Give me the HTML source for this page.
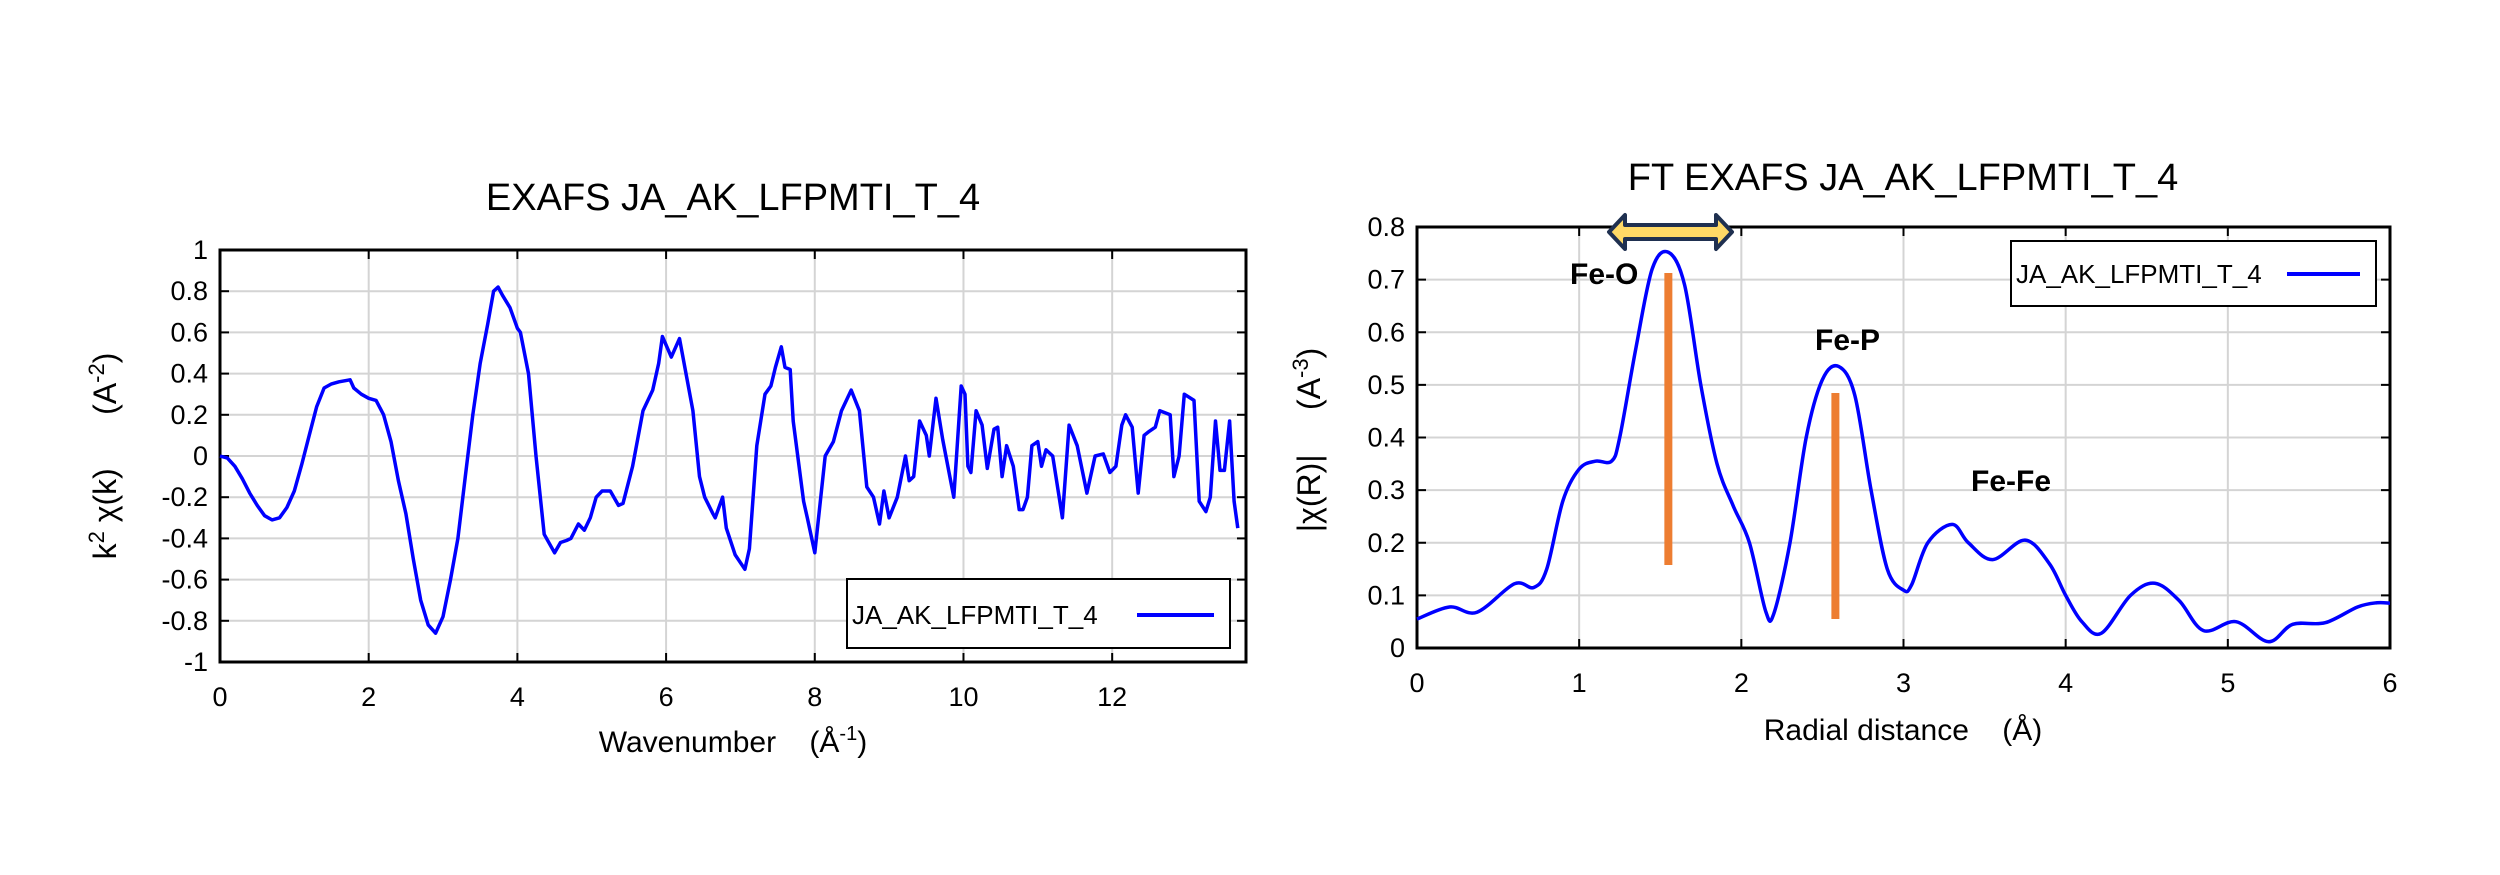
<!DOCTYPE html>
<html><head><meta charset="utf-8"><style>
html,body{margin:0;padding:0;background:#fff}
svg{display:block;font-family:"Liberation Sans",Arial,sans-serif}
svg text{white-space:pre}
</style></head><body>
<svg id="root" width="2500" height="875" viewBox="0 0 2500 875" xmlns="http://www.w3.org/2000/svg" xml:space="preserve">
<rect width="2500" height="875" fill="#fff"/>
<g id="left"></g>
<g id="right"></g>
</svg>
<script>
// ---- Left chart data ----
const kValues=[0,0.1,0.2,0.3,0.4,0.5,0.6,0.7,0.8,0.9,1.0,1.1,1.2,1.3,1.4,1.5,1.6,1.75,1.8,1.9,2.0,2.1,2.2,2.3,2.4,2.5,2.6,2.7,2.8,2.9,3.0,3.1,3.2,3.3,3.4,3.5,3.6,3.68,3.74,3.8,3.9,4.0,4.04,4.15,4.25,4.36,4.5,4.58,4.66,4.72,4.82,4.9,4.98,5.06,5.14,5.25,5.36,5.42,5.55,5.69,5.82,5.9,5.95,6.07,6.18,6.36,6.45,6.52,6.63,6.66,6.76,6.81,6.93,7.06,7.12,7.22,7.33,7.41,7.47,7.55,7.6,7.67,7.71,7.85,7.9,8.0,8.14,8.25,8.36,8.49,8.6,8.7,8.79,8.87,8.93,9.0,9.11,9.22,9.27,9.33,9.41,9.5,9.54,9.63,9.72,9.87,9.97,10.02,10.06,10.1,10.17,10.25,10.32,10.41,10.46,10.52,10.58,10.67,10.75,10.8,10.86,10.92,11.0,11.05,11.11,11.2,11.33,11.42,11.53,11.66,11.77,11.88,11.97,12.05,12.13,12.18,12.27,12.35,12.43,12.5,12.58,12.64,12.78,12.83,12.9,12.97,13.1,13.17,13.26,13.32,13.39,13.45,13.51,13.58,13.64,13.69];
const chiValues=[0,-0.01,-0.05,-0.11,-0.18,-0.24,-0.29,-0.31,-0.3,-0.25,-0.17,-0.04,0.1,0.24,0.33,0.35,0.36,0.37,0.33,0.3,0.28,0.27,0.2,0.07,-0.12,-0.28,-0.5,-0.7,-0.82,-0.86,-0.78,-0.6,-0.4,-0.1,0.2,0.45,0.64,0.8,0.82,0.78,0.72,0.62,0.6,0.4,0.0,-0.38,-0.47,-0.42,-0.41,-0.4,-0.33,-0.36,-0.3,-0.2,-0.17,-0.17,-0.24,-0.23,-0.05,0.22,0.32,0.45,0.58,0.48,0.57,0.22,-0.1,-0.2,-0.28,-0.3,-0.2,-0.35,-0.48,-0.55,-0.45,0.05,0.3,0.34,0.43,0.53,0.43,0.42,0.17,-0.22,-0.3,-0.47,0.0,0.07,0.22,0.32,0.22,-0.15,-0.2,-0.33,-0.17,-0.3,-0.2,0.0,-0.12,-0.1,0.17,0.1,0.0,0.28,0.08,-0.2,0.34,0.3,-0.05,-0.08,0.22,0.15,-0.06,0.13,0.14,-0.1,0.05,-0.05,-0.26,-0.26,-0.2,0.05,0.07,-0.05,0.03,0.0,-0.3,0.15,0.05,-0.18,0.0,0.01,-0.08,-0.05,0.15,0.2,0.14,-0.18,0.1,0.12,0.14,0.22,0.2,-0.1,0.0,0.3,0.27,-0.22,-0.27,-0.2,0.17,-0.07,-0.07,0.17,-0.22,-0.35,-0.3];
const kTicks=[0,2,4,6,8,10,12];
const chiTicks=[-1,-0.8,-0.6,-0.4,-0.2,0,0.2,0.4,0.6,0.8,1];
// ---- Right chart data ----
const rValues=[0,0.2,0.37,0.6,0.72,0.8,0.9,1.0,1.1,1.2,1.25,1.35,1.45,1.55,1.65,1.75,1.85,1.95,2.05,2.15,2.2,2.3,2.4,2.5,2.6,2.7,2.8,2.9,3.0,3.05,3.15,3.3,3.4,3.55,3.75,3.9,4.0,4.1,4.22,4.4,4.55,4.7,4.85,5.05,5.25,5.4,5.6,5.8,5.92,6.0];
const ftValues=[0.055,0.078,0.068,0.122,0.115,0.15,0.28,0.34,0.355,0.355,0.4,0.57,0.72,0.752,0.69,0.5,0.35,0.27,0.2,0.07,0.065,0.2,0.4,0.51,0.535,0.48,0.3,0.15,0.11,0.12,0.2,0.235,0.2,0.168,0.205,0.16,0.1,0.05,0.028,0.1,0.123,0.09,0.033,0.05,0.012,0.045,0.048,0.078,0.086,0.085];
const rTicks=[0,1,2,3,4,5,6];
const ftTicks=[0,0.1,0.2,0.3,0.4,0.5,0.6,0.7,0.8];
const peakLabels=["Fe-O","Fe-P","Fe-Fe"];
const peakR=[1.55,2.58];

const NS="http://www.w3.org/2000/svg";
function mk(parent,tag,attrs,text){const e=document.createElementNS(NS,tag);for(const k in attrs)e.setAttribute(k,attrs[k]);if(text!==undefined)e.textContent=text;parent.appendChild(e);return e;}

function drawChart(g,o){
  const X=v=>o.x0+(v-o.xmin)/(o.xmax-o.xmin)*(o.x1-o.x0);
  const Y=v=>o.y1-(v-o.ymin)/(o.ymax-o.ymin)*(o.y1-o.y0);
  o.xticks.forEach(t=>{
    const l=mk(g,'line',{x1:X(t),x2:X(t),y1:o.y0,y2:o.y1,stroke:'#d4d4d4','stroke-width':2});
    
    
    mk(g,'line',{x1:X(t),x2:X(t),y1:o.y1,y2:o.y1-9,stroke:'#000','stroke-width':2});
    mk(g,'line',{x1:X(t),x2:X(t),y1:o.y0,y2:o.y0+9,stroke:'#000','stroke-width':2});
    const tx=mk(g,'text',{x:X(t),y:o.y1+44,'font-size':27,'text-anchor':'middle',fill:'#000'},String(t));
    
    
  });
  o.yticks.forEach(t=>{
    const l=mk(g,'line',{x1:o.x0,x2:o.x1,y1:Y(t),y2:Y(t),stroke:'#d4d4d4','stroke-width':2});
    
    
    mk(g,'line',{x1:o.x0,x2:o.x0+9,y1:Y(t),y2:Y(t),stroke:'#000','stroke-width':2});
    mk(g,'line',{x1:o.x1,x2:o.x1-9,y1:Y(t),y2:Y(t),stroke:'#000','stroke-width':2});
    const tx=mk(g,'text',{x:o.x0-12,y:Y(t)+9,'font-size':27,'text-anchor':'end',fill:'#000'},String(t));
    
    
  });
  const fr=mk(g,'rect',{x:o.x0,y:o.y0,width:o.x1-o.x0,height:o.y1-o.y0,fill:'none',stroke:'#000','stroke-width':3});
  
  
  let d='';
  if(o.smooth){
    const p=o.xs.map((x,i)=>[X(x),Y(o.ys[i])]);
    d='M'+p[0][0]+','+p[0][1];
    for(let i=0;i<p.length-1;i++){
      const p0=p[Math.max(0,i-1)],p1=p[i],p2=p[i+1],p3=p[Math.min(p.length-1,i+2)];
      d+=' C'+(p1[0]+(p2[0]-p0[0])/6)+','+(p1[1]+(p2[1]-p0[1])/6)+' '+(p2[0]-(p3[0]-p1[0])/6)+','+(p2[1]-(p3[1]-p1[1])/6)+' '+p2[0]+','+p2[1];
    }
  } else {
    d=o.xs.map((x,i)=>(i?'L':'M')+X(x).toFixed(1)+','+Y(o.ys[i]).toFixed(1)).join(' ');
  }
  const ln=mk(g,'path',{d:d,fill:'none',stroke:'#0000ff','stroke-width':3.5,'stroke-linejoin':'round'});
  
  
  return {X,Y};
}

const L=document.getElementById('left');
drawChart(L,{x0:220,x1:1246,y0:250,y1:662,xmin:0,xmax:13.8,ymin:-1,ymax:1,xticks:kTicks,yticks:chiTicks,xs:kValues,ys:chiValues,smooth:false});
const R=document.getElementById('right');
const ax=drawChart(R,{x0:1417,x1:2390,y0:227,y1:648,xmin:0,xmax:6,ymin:0,ymax:0.8,xticks:rTicks,yticks:ftTicks,xs:rValues,ys:ftValues,smooth:true});
</script>
<script>
(function(){
const root=document.getElementById('root');
function add(tag,attrs,text,name,inter){const e=document.createElementNS(NS,tag);for(const k in attrs)e.setAttribute(k,attrs[k]);if(text!==undefined)e.textContent=text;root.appendChild(e);


return e;}
add('text',{x:733,y:210,'font-size':38,'text-anchor':'middle'},'EXAFS JA_AK_LFPMTI_T_4','left-chart-title');
add('text',{x:1903,y:190,'font-size':38,'text-anchor':'middle'},'FT EXAFS JA_AK_LFPMTI_T_4','right-chart-title');
const yl=add('text',{x:0,y:0,'font-size':32,'text-anchor':'middle',transform:'translate(116,456) rotate(-90)'},'','left-y-axis-title');
yl.innerHTML='k<tspan dy="-12" font-size="22">2</tspan><tspan dy="12"> χ(k)      (A</tspan><tspan dy="-12" font-size="22">-2</tspan><tspan dy="12">)</tspan>';
const xl=add('text',{x:733,y:752,'font-size':30,'text-anchor':'middle'},'','left-x-axis-title');
xl.innerHTML='Wavenumber    (Å<tspan dy="-12" font-size="20">-1</tspan><tspan dy="12">)</tspan>';
const yr=add('text',{x:0,y:0,'font-size':32,'text-anchor':'middle',transform:'translate(1320,440) rotate(-90)'},'','right-y-axis-title');
yr.innerHTML='|χ(R)|     (A<tspan dy="-12" font-size="22">-3</tspan><tspan dy="12">)</tspan>';
add('text',{x:1903,y:740,'font-size':30,'text-anchor':'middle'},'Radial distance    (Å)','right-x-axis-title');
add('rect',{x:847,y:579,width:383,height:69,fill:'#fff',stroke:'#000','stroke-width':2},undefined,'left-legend-box');
add('text',{x:852,y:624,'font-size':26},'JA_AK_LFPMTI_T_4','left-legend-label');
add('line',{x1:1137,x2:1214,y1:615,y2:615,stroke:'#0000ff','stroke-width':4},undefined,'left-legend-swatch');
add('rect',{x:2011,y:241,width:365,height:65,fill:'#fff',stroke:'#000','stroke-width':2},undefined,'right-legend-box');
add('text',{x:2016,y:283,'font-size':26},'JA_AK_LFPMTI_T_4','right-legend-label');
add('line',{x1:2287,x2:2360,y1:274,y2:274,stroke:'#0000ff','stroke-width':4},undefined,'right-legend-swatch');
add('rect',{x:ax.X(peakR[0])-4,y:273,width:8,height:292,fill:'#ED7D31'},undefined,'fe-o-marker-bar');
add('rect',{x:ax.X(peakR[1])-4,y:393,width:8,height:226,fill:'#ED7D31'},undefined,'fe-p-marker-bar');
add('text',{x:1570,y:284,'font-size':30,'font-weight':'bold'},peakLabels[0],'fe-o-label');
add('text',{x:1815,y:350,'font-size':30,'font-weight':'bold'},peakLabels[1],'fe-p-label');
add('text',{x:1971,y:491,'font-size':30,'font-weight':'bold'},peakLabels[2],'fe-fe-label');
add('path',{d:'M1609,232 L1625,215 L1625,225 L1716,225 L1716,215 L1732,232 L1716,249 L1716,239 L1625,239 L1625,249 Z',fill:'#FFD966',stroke:'#1F3050','stroke-width':4,'stroke-linejoin':'round'},undefined,'fe-o-range-arrow');
})();
</script>
</body></html>
